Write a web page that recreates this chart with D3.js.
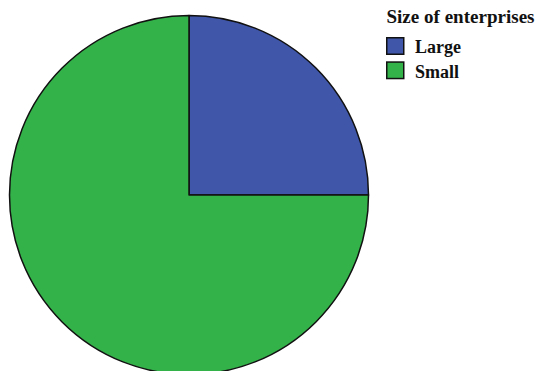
<!DOCTYPE html>
<html>
<head>
<meta charset="utf-8">
<script src="https://cdn.jsdelivr.net/npm/d3@7"></script>
<style>
  body { margin: 0; background: #fff; }
  svg { display: block; }
  .legend text { font-family: "Liberation Serif", "Times New Roman", serif; font-weight: bold; fill: #111; }
</style>
</head>
<body>
<div id="chart"></div>
<script>
var categories = ['Large', 'Small'];
var values = [25, 75];
var colors = ['#3f56a9', '#34b24a'];
var legendTitle = 'Size of enterprises';

var cfg = {
    width: 540,
    height: 371,
    cx: 189,
    cy: 195,
    r: 179.5
};

var data = categories.map(function (c, i) { return { name: c, value: values[i] }; });

var svg = d3.select('#chart').append('svg')
    .attr('width', cfg.width)
    .attr('height', cfg.height);

var color = d3.scaleOrdinal().domain(categories).range(colors);

var pie = d3.pie()
    .sort(null)
    .value(function (d) { return d.value; });

var arc = d3.arc()
    .innerRadius(0)
    .outerRadius(cfg.r);

var g = svg.append('g')
    .attr('transform', 'translate(' + cfg.cx + ',' + cfg.cy + ')');

g.selectAll('path')
    .data(pie(data))
    .enter()
    .append('path')
    .attr('d', arc)
    .attr('fill', function (d) { return color(d.data.name); })
    .attr('stroke', '#111')
    .attr('stroke-width', 1.5)
    .attr('stroke-linejoin', 'round');

// legend
var legend = svg.append('g')
    .classed('legend', true)
    .attr('transform', 'translate(386,0)');

legend.append('text')
    .attr('x', 0.5)
    .attr('y', 23.3)
    .style('font-size', '18px')
    .attr('textLength', 148)
    .attr('lengthAdjust', 'spacingAndGlyphs')
    .text(legendTitle);

var item = legend.selectAll('.item')
    .data(categories)
    .enter()
    .append('g')
    .classed('item', true)
    .attr('transform', function (d, i) { return 'translate(0,' + (37 + i * 24.3) + ')'; });

item.append('rect')
    .attr('x', 0.75)
    .attr('y', 0.75)
    .attr('width', 17)
    .attr('height', 16.5)
    .attr('fill', function (d) { return color(d); })
    .attr('stroke', '#111')
    .attr('stroke-width', 1.5);

item.append('text')
    .attr('x', 29)
    .attr('y', 16.3)
    .style('font-size', '18px')
    .text(function (d) { return d; });
</script>
</body>
</html>
